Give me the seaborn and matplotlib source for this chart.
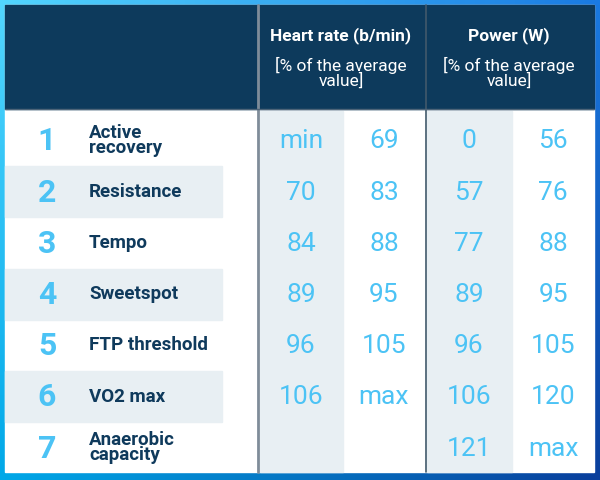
import numpy as np
import matplotlib
matplotlib.use("Agg")
import matplotlib.pyplot as plt
import seaborn as sns
from matplotlib.patches import Rectangle
from matplotlib.colors import to_rgb

# ---- data ----
zone_numbers = ["1", "2", "3", "4", "5", "6", "7"]
zones = ["Active\nrecovery", "Resistance", "Tempo", "Sweetspot",
         "FTP threshold", "VO2 max", "Anaerobic\ncapacity"]
hr_low = ["min", "70", "84", "89", "96", "106", ""]
hr_high = ["69", "83", "88", "95", "105", "max", ""]
pw_low = ["0", "57", "77", "89", "96", "106", "121"]
pw_high = ["56", "76", "88", "95", "105", "120", "max"]
headers = ["Heart rate (b/min)", "Power (W)"]
subheader = "[% of the average\nvalue]"

sns.set_theme(style="white")
plt.rcParams["font.family"] = ["Roboto", "DejaVu Sans"]

W, H = 600, 480
fig = plt.figure(figsize=(6, 4.8), dpi=100)
ax = fig.add_axes([0, 0, 1, 1])
ax.set_xlim(0, W)
ax.set_ylim(H, 0)
ax.axis("off")

# gradient background (bilinear)
tl, tr = np.array(to_rgb("#52d6ff")), np.array(to_rgb("#1a7ae2"))
bl, br = np.array(to_rgb("#00a8e8")), np.array(to_rgb("#0a3f9c"))
u = np.linspace(0, 1, 120)[None, :, None]
v = np.linspace(0, 1, 96)[:, None, None]
grad = (1 - u) * (1 - v) * tl + u * (1 - v) * tr + (1 - u) * v * bl + u * v * br
ax.imshow(grad, extent=[0, W, H, 0], aspect="auto", zorder=0)

left, right, top, bottom = 5, 594, 5, 472
head_bot = 109
navy = "#0d3a5c"
band = "#e8eff3"
numc = "#4cc3f5"
labc = "#0f3a5c"

ax.add_patch(Rectangle((left, top), right - left, bottom - top, color="white", zorder=1))
ax.add_patch(Rectangle((left, top), right - left, head_bot - top, color=navy, zorder=2))

x_sep1, x_sep2 = 257.5, 425.5
# shaded value columns
ax.add_patch(Rectangle((260, 111), 83, bottom - 111, color=band, zorder=1.5))
ax.add_patch(Rectangle((427, 111), 85, bottom - 111, color=band, zorder=1.5))

# rows
row_y0, row_step, row_h = 141.5, 51.2, 51
for i in range(len(zones)):
    yc = row_y0 + i * row_step
    if i % 2 == 1:
        ax.add_patch(Rectangle((left, yc - 1 - row_h / 2), 222 - left, row_h, color=band, zorder=1.5))
    ax.text(47, yc, zone_numbers[i], color=numc, fontsize=23, fontweight="bold",
            ha="center", va="center", zorder=3)
    ax.text(89, yc - 1, zones[i], color=labc, fontsize=13.5, fontweight="bold",
            ha="left", va="center", linespacing=0.8, zorder=3)
    for xc, vals in zip([301, 384, 469, 553], [hr_low, hr_high, pw_low, pw_high]):
        if vals[i]:
            ax.text(xc, yc, vals[i], color=numc, fontsize=19, fontweight="normal",
                    ha="center", va="center", zorder=3)

# separators
ax.plot([x_sep1, x_sep1], [top, bottom], color="#7f8c99", lw=2, zorder=4)
ax.plot([x_sep2, x_sep2], [top, bottom], color="#41596b", lw=1.2, zorder=4)
ax.plot([left, right], [head_bot, head_bot], color="#4d6478", lw=1, zorder=4)

# headers
for xc, h in zip([341, 509], headers):
    ax.text(xc, 36, h, color="white", fontsize=12.5, fontweight="bold",
            ha="center", va="center", zorder=3)
    ax.text(xc, 73, subheader, color="white", fontsize=12.5, fontweight="normal",
            ha="center", va="center", linespacing=0.85, zorder=3)

fig.savefig("out.png", dpi=100)
